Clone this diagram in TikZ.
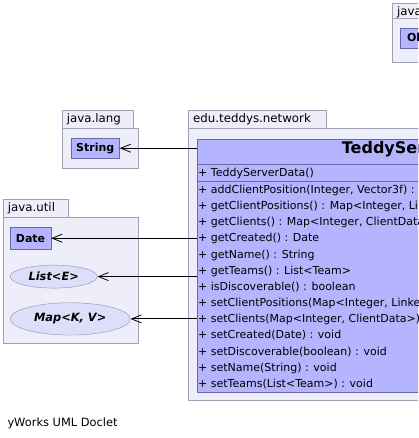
\documentclass[tikz,border=0pt]{standalone}
\usepackage{fontspec}
\setmainfont{DejaVu Sans}
\usetikzlibrary{arrows.meta,shapes.geometric}
\definecolor{pkgfill}{RGB}{238,238,250}
\definecolor{pkgline}{RGB}{160,160,178}
\definecolor{clsfill}{RGB}{180,180,255}
\definecolor{clsline}{RGB}{105,105,165}
\definecolor{ellfill}{RGB}{222,222,250}
\definecolor{ellline}{RGB}{140,140,170}
\tikzset{
  pkgtab/.style={draw=pkgline, fill=pkgfill, anchor=north west, inner xsep=5pt, inner ysep=0pt,
    minimum height=18pt, align=left, font=\fontsize{11.8}{13}\selectfont},
  pkgbody/.style={draw=pkgline, fill=pkgfill, anchor=north west, inner sep=0pt},
  clsbox/.style={draw=clsline, fill=clsfill, anchor=north west, inner sep=0pt,
    font=\bfseries\fontsize{11}{13}\selectfont},
  ifacebox/.style={ellipse, draw=ellline, fill=ellfill, anchor=west, inner sep=0pt,
    font=\bfseries\itshape\fontsize{11.4}{13}\selectfont},
  member/.style={anchor=base west, inner sep=0pt, font=\fontsize{11}{13}\selectfont},
  dep/.style={draw=black, line width=1pt, -{Straight Barb[length=10pt,width=8pt,line width=0.8pt]}},
}
\begin{document}
\begin{tikzpicture}[x=1pt,y=-1pt]
\useasboundingbox (0,0) rectangle (418,438);
\fill[white] (0,0) rectangle (418,438);
\clip (0,0) rectangle (418,438);

% top-right package (java.lang, cut off)
\node[pkgtab, text width=40pt] (tr-tab) at (392,2.7) {java.lang};
\node[pkgbody, minimum width=60pt, minimum height=43.4pt] (tr-body) at (392,18.3) {};
\node[clsbox, minimum width=54pt, minimum height=20pt] (obj) at (400,28.3) {Object};

% java.lang package
\node[pkgtab, text width=61.3pt] (lang-tab) at (61.7,110) {java.lang};
\node[pkgbody, minimum width=76pt, minimum height=40pt] (lang-body) at (61.7,128) {};
\node[clsbox, minimum width=48.6pt, minimum height=20pt] (str) at (70.7,138) {String};

% java.util package
\node[pkgtab, text width=55pt] (util-tab) at (2.7,199) {java.util};
\node[pkgbody, minimum width=135.6pt, minimum height=125.7pt] (util-body) at (2.7,217) {};
\node[clsbox, minimum width=40.7pt, minimum height=22.6pt] (date) at (10,226.7) {Date};
\node[ifacebox, minimum width=87pt, minimum height=23pt] (list) at (10,276.6) {List<E>};
\node[ifacebox, minimum width=120pt, minimum height=32.3pt] (map) at (10,318.9) {Map<K, V>};

% edu.teddys.network package
\node[pkgtab, text width=128pt] (net-tab) at (188,110) {edu.teddys.network};
\node[pkgbody, minimum width=260pt, minimum height=272pt] (net-body) at (188,128) {};
\node[clsbox, minimum width=250pt, minimum height=252.5pt] (cls) at (196.7,139) {};
\draw[clsline, line width=0.8pt] (196.7,164.3) -- (450,164.3);
\draw[clsline, line width=0.8pt] (196.7,181.7) -- (450,181.7);
\node[anchor=base west, inner sep=0pt, font=\bfseries\fontsize{16}{18}\selectfont] (title) at (341.7,153.6) {TeddyServerData};

\node[member] (m0) at (198,176.7) {+ TeddyServerData()};
\node[member] (m1) at (198,193.3) {+ addClientPosition(Integer, Vector3f) : void};
\node[member] (m2) at (198,209.5) {+ getClientPositions() : Map<Integer, LinkedList<Vector3f>{}>};
\node[member] (m3) at (198,225.6) {+ getClients() : Map<Integer, ClientData>};
\node[member] (m4) at (198,241.8) {+ getCreated() : Date};
\node[member] (m5) at (198,258.0) {+ getName() : String};
\node[member] (m6) at (198,274.1) {+ getTeams() : List<Team>};
\node[member] (m7) at (198,290.3) {+ isDiscoverable() : boolean};
\node[member] (m8) at (198,306.5) {+ setClientPositions(Map<Integer, LinkedList<Vector3f>{}>) : void};
\node[member] (m9) at (198,322.6) {+ setClients(Map<Integer, ClientData>) : void};
\node[member] (m10) at (198,338.8) {+ setCreated(Date) : void};
\node[member] (m11) at (198,355.0) {+ setDiscoverable(boolean) : void};
\node[member] (m12) at (198,371.1) {+ setName(String) : void};
\node[member] (m13) at (198,387.3) {+ setTeams(List<Team>) : void};

% dependencies
\draw[dep] (cls.west |- str.east) -- (str.east);
\draw[dep] (cls.west |- date.east) -- (date.east);
\draw[dep] (cls.west |- list.east) -- (list.east);
\draw[dep] (cls.west |- map.east) -- (map.east);

\node[anchor=base west, inner sep=0pt, font=\fontsize{11.4}{13}\selectfont] (foot) at (7.3,426) {yWorks UML Doclet};
\end{tikzpicture}
\end{document}
